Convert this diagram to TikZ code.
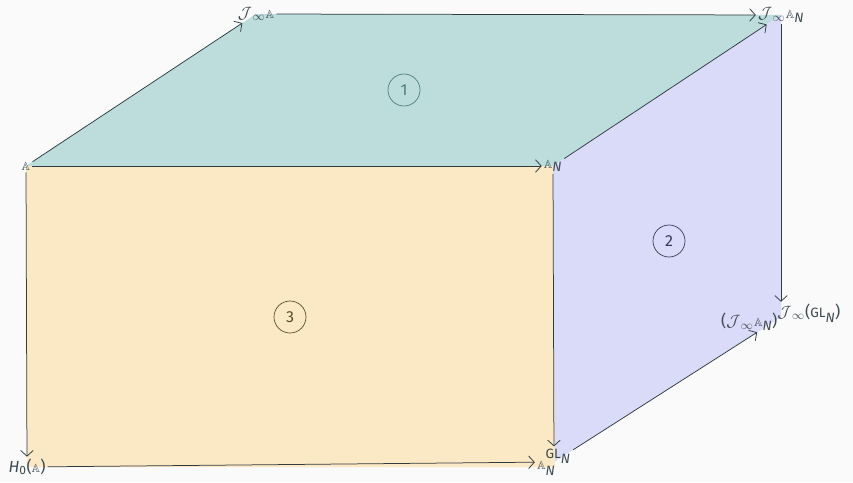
\documentclass[tikz,border=0pt]{standalone}
\usepackage{amsmath,amssymb}
\usepackage{graphicx}
\usepackage{fontspec}
\setmainfont{Fira Sans}
\usepackage{tikz}
\usetikzlibrary{arrows.meta,backgrounds}

\definecolor{pagebg}{HTML}{FAFAFA}
\definecolor{edgecol}{HTML}{2F3C42}
\definecolor{textcol}{HTML}{3C4A50}
\definecolor{topfill}{HTML}{BCDDDC}
\definecolor{sidefill}{HTML}{DADAF9}
\definecolor{frontfill}{HTML}{FBE8C4}
\definecolor{topmark}{HTML}{4E7D7E}
\definecolor{sidemark}{HTML}{363A5C}
\definecolor{frontmark}{HTML}{5C4A2C}

% fixed-size pieces, so that scripts stay large
\newcommand{\bbA}{\mbox{\scalebox{0.74}{$\mathbb{A}$}}}
\newcommand{\itN}{\mbox{\fontsize{13.5}{15}\selectfont\itshape N}}
\newcommand{\itH}{\mbox{\itshape H}}
\newcommand{\zero}{\mbox{\fontsize{12}{14}\selectfont 0}}
\newcommand{\GLN}{\mbox{\fontsize{13.5}{15}\selectfont GL}_{\itN}}
\newcommand{\Jinf}{\mbox{\scalebox{0.95}{$\mathcal{J}$}\kern0.5pt\raisebox{-2.5pt}{\scalebox{0.7}{$\infty$}}\kern1pt}}
\newcommand{\lp}{\mbox{(}}
\newcommand{\rp}{\mbox{)}}

\begin{document}
\begin{tikzpicture}[
    x=1pt, y=-1pt,
    obj/.style={inner sep=2pt, text=textcol, font=\fontsize{16}{18}\selectfont},
    line/.style={-{Straight Barb[length=2mm,width=4.4mm]}, draw=edgecol, line width=0.75pt},
    mark/.style={circle, draw=#1, text=#1, minimum size=32pt, inner sep=0pt, line width=0.7pt, font=\fontsize{16}{18}\selectfont}
]
\useasboundingbox (0,0) rectangle (853,482);

% corners of the cube
\node[obj] (A)    at (26,166)  {$\bbA$};
\node[obj] (JA)   at (256,14)  {$\Jinf\bbA$};
\node[obj] (JAN)  at (781,15)  {$\Jinf\bbA_{\itN}$};
\node[obj] (AN)   at (553,166) {$\bbA_{\itN}$};
\node[obj] (JANG) at (781,317) {$\lp\Jinf\bbA_{\itN}\rp^{\Jinf\lp\GLN\rp}$};
\node[obj] (H0)   at (27,467)  {$\itH_{\zero}\lp\bbA\rp$};
\node[obj] (ANG)  at (554,462) {$\bbA_{\itN}^{\GLN}$};

% faces
\begin{scope}[on background layer]
\fill[pagebg] (0,0) rectangle (853,482);
\fill[topfill] (A.center) -- (JA.center) -- (JAN.center) -- (AN.center) -- cycle;
\fill[sidefill] (AN.center) -- (JAN.center) -- (JANG.center) -- (ANG.center) -- cycle;
\fill[frontfill] (A.center) -- (AN.center) -- (555,467) -- (H0.center) -- cycle;
\end{scope}

\node[mark=topmark]   (one)   at (404,90)  {1};
\node[mark=sidemark]  (two)   at (669,241) {2};
\node[mark=frontmark] (three) at (290,317) {3};

\draw[line] (A) -- (JA);
\draw[line] (JA) -- (JAN);
\draw[line] (A) -- (AN);
\draw[line] (AN) -- (JAN);
\draw[line] (JAN) -- (JANG);
\draw[line] (A) -- (H0);
\draw[line] (AN) -- (ANG);
\draw[line] (H0) -- (ANG);
\draw[line] (ANG) -- (JANG);
\end{tikzpicture}
\end{document}
